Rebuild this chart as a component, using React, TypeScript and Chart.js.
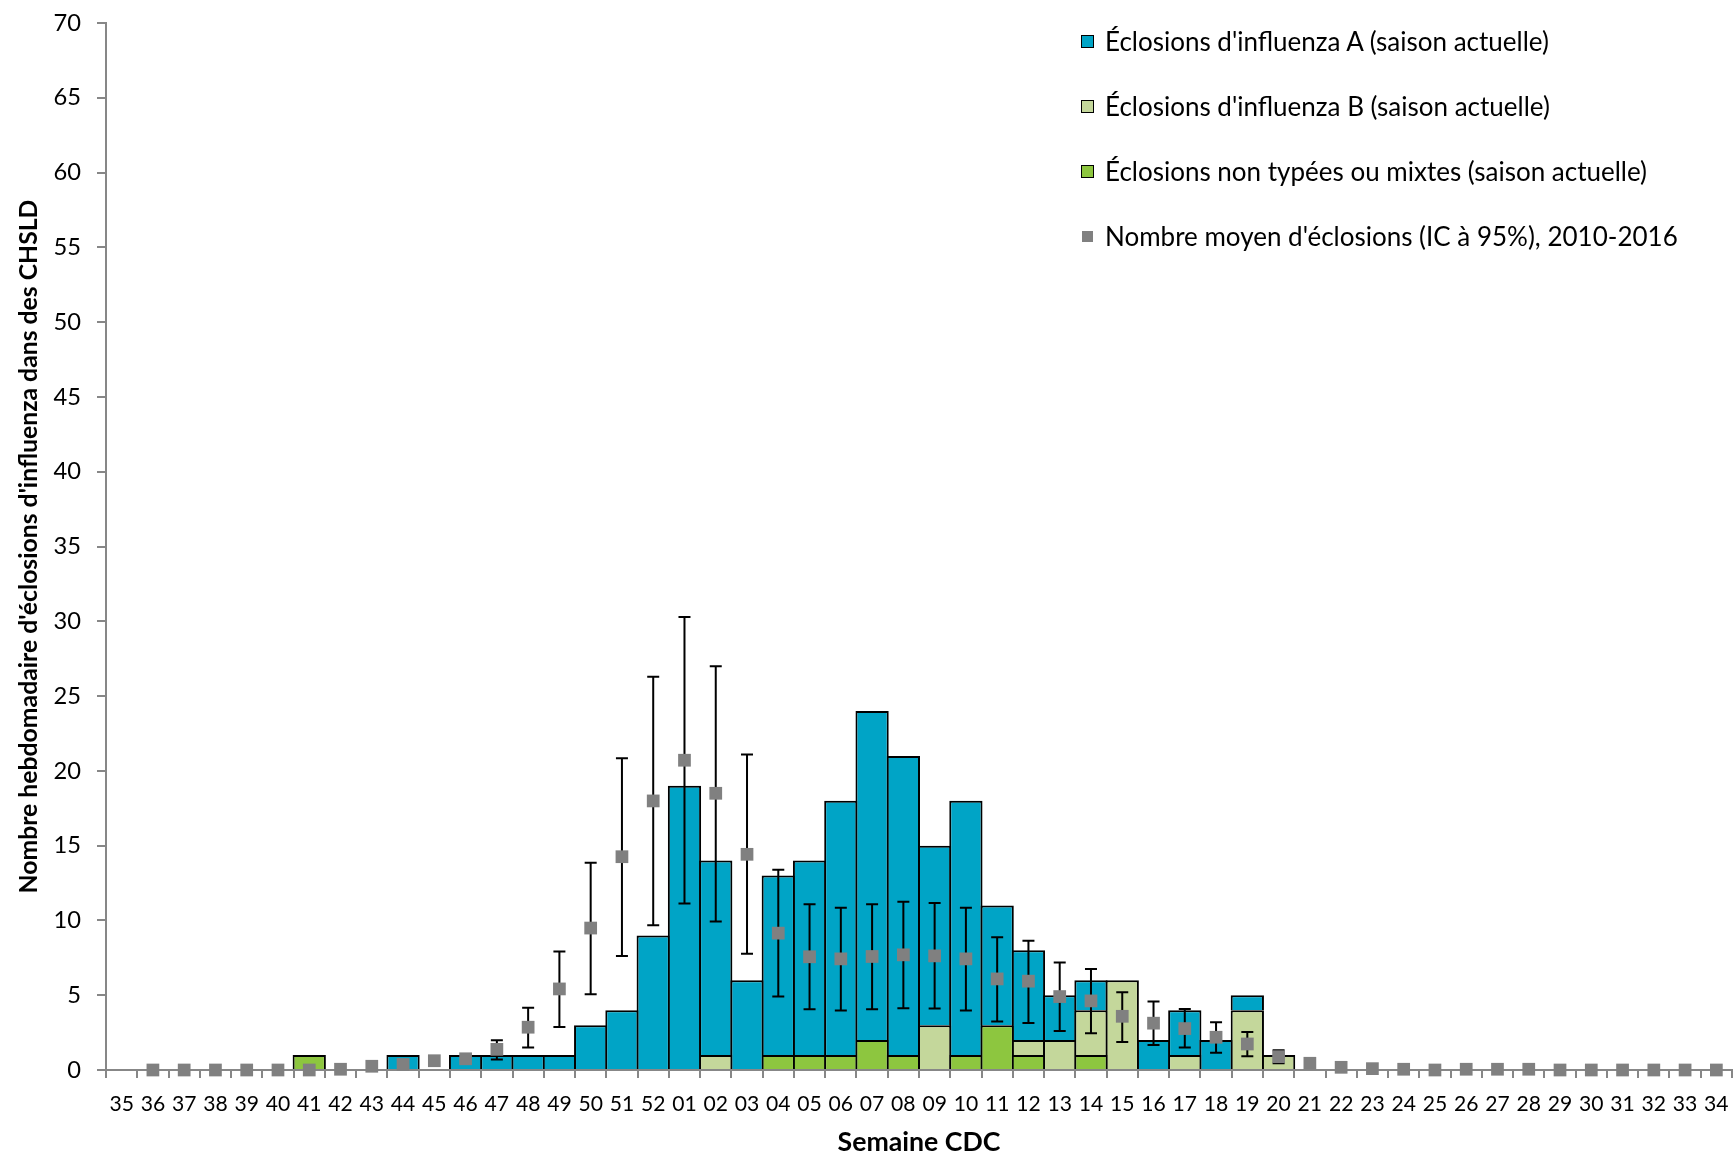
import React, { useEffect, useMemo, useRef } from "react";
import { Chart, registerables } from "chart.js";

Chart.register(...registerables);

// ---------- DATA ----------
const weeks = [
  "35", "36", "37", "38", "39", "40", "41", "42", "43", "44", "45", "46", "47", "48", "49", "50", "51", "52",
  "01", "02", "03", "04", "05", "06", "07", "08", "09", "10", "11", "12", "13", "14", "15", "16", "17", "18", "19", "20",
  "21", "22", "23", "24", "25", "26", "27", "28", "29", "30", "31", "32", "33", "34",
];

// Influenza A outbreaks (current season)
const fluA = [
  0, 0, 0, 0, 0, 0, 0, 0, 0, 1, 0, 1, 1, 1, 1, 3, 4, 9,
  19, 13, 6, 12, 13, 17, 22, 20, 12, 17, 8, 6, 3, 2, 0, 2, 3, 2, 1, 0,
  0, 0, 0, 0, 0, 0, 0, 0, 0, 0, 0, 0, 0, 0,
];

// Influenza B outbreaks (current season)
const fluB = [
  0, 0, 0, 0, 0, 0, 0, 0, 0, 0, 0, 0, 0, 0, 0, 0, 0, 0,
  0, 1, 0, 0, 0, 0, 0, 0, 3, 0, 0, 1, 2, 3, 6, 0, 1, 0, 4, 1,
  0, 0, 0, 0, 0, 0, 0, 0, 0, 0, 0, 0, 0, 0,
];

// Untyped or mixed outbreaks (current season)
const untyped = [
  0, 0, 0, 0, 0, 0, 1, 0, 0, 0, 0, 0, 0, 0, 0, 0, 0, 0,
  0, 0, 0, 1, 1, 1, 2, 1, 0, 1, 3, 1, 0, 1, 0, 0, 0, 0, 0, 0,
  0, 0, 0, 0, 0, 0, 0, 0, 0, 0, 0, 0, 0, 0,
];

// Mean number of outbreaks 2010-2016
const meanHist: (number | null)[] = [
  null, 0, 0, 0, 0, 0, 0, 0.05, 0.25, 0.37, 0.62, 0.75, 1.38, 2.86, 5.42, 9.49, 14.26, 17.99,
  20.71, 18.5, 14.42, 9.15, 7.57, 7.43, 7.59, 7.7, 7.63, 7.43, 6.09, 5.94, 4.91, 4.62, 3.59, 3.13, 2.77, 2.19, 1.74, 0.89,
  0.45, 0.18, 0.09, 0.05, 0, 0.05, 0.05, 0.05, 0, 0, 0, 0, 0, 0,
];

// 95% CI lower / upper
const ciLow: (number | null)[] = [
  null, null, null, null, null, null, null, null, null, null, null, null, 0.71, 1.5, 2.88, 5.07, 7.63, 9.67,
  11.14, 9.93, 7.77, 4.91, 4.06, 3.97, 4.06, 4.13, 4.11, 3.97, 3.24, 3.15, 2.61, 2.46, 1.88, 1.67, 1.5, 1.16, 0.92, 0.45,
  null, null, null, null, null, null, null, null, null, null, null, null, null, null,
];
const ciHigh: (number | null)[] = [
  null, null, null, null, null, null, null, null, null, null, null, null, 1.99, 4.17, 7.92, 13.86, 20.85, 26.29,
  30.29, 27.0, 21.09, 13.39, 11.09, 10.85, 11.09, 11.25, 11.16, 10.85, 8.88, 8.64, 7.19, 6.76, 5.2, 4.58, 4.08, 3.19, 2.54, 1.32,
  null, null, null, null, null, null, null, null, null, null, null, null, null, null,
];

const legendLabels = [
  "Éclosions d'influenza A (saison actuelle)",
  "Éclosions d'influenza B (saison actuelle)",
  "Éclosions non typées ou mixtes (saison actuelle)",
  "Nombre moyen d'éclosions (IC à 95%), 2010-2016",
];
const yTitle = "Nombre hebdomadaire d'éclosions d'influenza dans des CHSLD";
const xTitle = "Semaine CDC";

// ---------- STYLE ----------
const COLOR_A = "#00A4C6";
const COLOR_B = "#C4D79B";
const COLOR_U = "#8DC63F";
const COLOR_MEAN = "#808080";
const AXIS = "#878787";
const FONT = "Lato";

function fitSize(text: string, weight: string, target: number): number {
  const ctx = document.createElement("canvas").getContext("2d")!;
  ctx.font = `${weight} 100px ${FONT}`;
  const w = ctx.measureText(text).width;
  return (100 * target) / w;
}

const errorBarPlugin = {
  id: "errorBars",
  beforeDatasetDraw(chart: any, args: any) {
    if (args.index !== 0) return;
    const xs = chart.scales.x;
    const ys = chart.scales.yMean;
    const ctx = chart.ctx;
    ctx.save();
    ctx.strokeStyle = "#000";
    ctx.lineWidth = 2;
    for (let i = 0; i < ciLow.length; i++) {
      const lo = ciLow[i];
      const hi = ciHigh[i];
      if (lo == null || hi == null) continue;
      const px = xs.getPixelForValue(i);
      const y1 = ys.getPixelForValue(lo);
      const y2 = ys.getPixelForValue(hi);
      ctx.beginPath();
      ctx.moveTo(px, y1);
      ctx.lineTo(px, y2);
      ctx.moveTo(px - 6, y1);
      ctx.lineTo(px + 6, y1);
      ctx.moveTo(px - 6, y2);
      ctx.lineTo(px + 6, y2);
      ctx.stroke();
    }
    ctx.restore();
  },
};

export default function App() {
  const canvasRef = useRef<HTMLCanvasElement | null>(null);

  const legendSize = useMemo(() => fitSize(legendLabels[0], "normal", 446), []);

  useEffect(() => {
    const canvas = canvasRef.current;
    if (!canvas) return;
    const yTickSize = fitSize("70", "normal", 27.5);
    const xTickSize = fitSize("35", "normal", 24.5);
    const xTitleSize = fitSize(xTitle, "bold", 163);
    const yTitleSize = fitSize(yTitle, "bold", 694);
    const nz = (arr: number[]) => arr.map((v) => (v === 0 ? null : v));
    const barCommon = {
      type: "bar" as const,
      borderColor: "#000",
      borderWidth: 2,
      borderSkipped: "start" as const,
      barPercentage: 1.064,
      categoryPercentage: 1,
      order: 1,
      yAxisID: "y",
    };

    const chart = new Chart(canvas, {
      type: "bar",
      data: {
        labels: weeks,
        datasets: [
          {
            type: "line",
            label: legendLabels[3],
            data: meanHist,
            yAxisID: "yMean",
            order: 0,
            clip: false,
            showLine: false,
            pointStyle: "rect",
            pointRadius: 9,
            pointHoverRadius: 9,
            pointBorderWidth: 0,
            pointBackgroundColor: COLOR_MEAN,
            backgroundColor: COLOR_MEAN,
            borderColor: COLOR_MEAN,
          } as any,
          { ...barCommon, label: legendLabels[2], data: nz(untyped), backgroundColor: COLOR_U } as any,
          { ...barCommon, label: legendLabels[1], data: nz(fluB), backgroundColor: COLOR_B } as any,
          { ...barCommon, label: legendLabels[0], data: nz(fluA), backgroundColor: COLOR_A } as any,
        ],
      },
      options: {
        animation: false,
        responsive: false,
        devicePixelRatio: 1,
        layout: { autoPadding: false, padding: { left: 0, right: 3, top: 23, bottom: 0 } },
        plugins: { legend: { display: false }, tooltip: { enabled: false } },
        events: [],
        scales: {
          x: {
            stacked: true,
            offset: true,
            grid: {
              display: true,
              offset: true,
              drawOnChartArea: false,
              drawTicks: true,
              tickLength: 8,
              color: AXIS,
              lineWidth: 2,
            },
            border: { display: true, color: AXIS, width: 2 },
            ticks: {
              autoSkip: false,
              maxRotation: 0,
              minRotation: 0,
              padding: 14,
              color: "#000",
              font: { family: FONT, size: xTickSize },
            },
            title: {
              display: true,
              text: xTitle,
              color: "#000",
              font: { family: FONT, size: xTitleSize, weight: "bold" },
              padding: { top: 0, bottom: 2 },
            },
            afterFit: (s: any) => {
              s.height = 90;
              s.paddingLeft = 0;
              s.paddingRight = 0;
            },
          },
          y: {
            stacked: true,
            min: 0,
            max: 70,
            grid: {
              display: true,
              drawOnChartArea: false,
              drawTicks: true,
              tickLength: 9,
              color: AXIS,
              lineWidth: 2,
            },
            border: { display: true, color: AXIS, width: 2 },
            ticks: {
              stepSize: 5,
              padding: 16,
              color: "#000",
              font: { family: FONT, size: yTickSize },
            },
            title: {
              display: true,
              text: yTitle,
              color: "#000",
              font: { family: FONT, size: yTitleSize, weight: "bold" },
              padding: { top: 14, bottom: 0 },
            },
            afterFit: (s: any) => {
              s.width = 106;
              s.paddingTop = 0;
              s.paddingBottom = 0;
            },
          },
          yMean: {
            display: false,
            stacked: false,
            min: 0,
            max: 70,
          },
        },
      } as any,
      plugins: [errorBarPlugin],
    });
    return () => chart.destroy();
  }, []);

  const legendItems = [
    { label: legendLabels[0], color: COLOR_A, border: true },
    { label: legendLabels[1], color: COLOR_B, border: true },
    { label: legendLabels[2], color: COLOR_U, border: true },
    { label: legendLabels[3], color: COLOR_MEAN, border: false },
  ];
  const rowCenters = [41, 106, 171, 236];

  return (
    <div style={{ position: "absolute", left: 0, top: 0, width: 1735, height: 1160, background: "#fff" }}>
      <canvas ref={canvasRef} width={1735} height={1160} style={{ display: "block", width: 1735, height: 1160 }} />
      {legendItems.map((it, i) => (
        <div
          key={i}
          style={{
            position: "absolute",
            left: 1081,
            top: rowCenters[i] - 16,
            height: 32,
            display: "flex",
            alignItems: "center",
            fontFamily: FONT,
            fontSize: legendSize,
            color: "#000",
            whiteSpace: "nowrap",
          }}
        >
          <div
            style={{
              width: it.border ? 13 : 11,
              height: it.border ? 13 : 11,
              marginLeft: it.border ? 0 : 1,
              marginRight: it.border ? 11 : 12,
              boxSizing: "border-box",
              background: it.color,
              border: it.border ? "1.5px solid #000" : "none",
              flex: "none",
            }}
          />
          <span>{it.label}</span>
        </div>
      ))}
    </div>
  );
}
